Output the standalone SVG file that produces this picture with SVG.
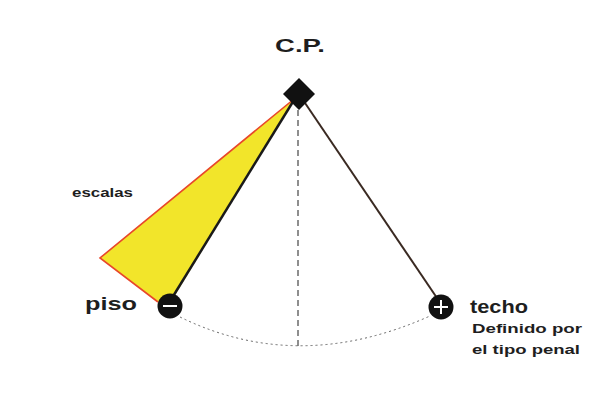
<svg xmlns="http://www.w3.org/2000/svg" width="613" height="405" viewBox="0 0 613 405">
<style>
.lbl{font-family:"Liberation Sans",Arial,sans-serif;fill:#1e1e1e}
.big{font-size:19px;font-weight:bold}
.sm{font-size:13px;font-weight:bold}
.node{fill:#111}
.sym{stroke:#fff;stroke-width:2;fill:none}
</style>
<rect width="613" height="405" fill="#fff"/>
<g id="connectors">
<polygon points="294,99 100,258 158,302 174,297" fill="#f2e52a" stroke="none"/>
<polyline points="294,99 100,258 158,302" fill="none" stroke="#e8472a" stroke-width="1.6"/>
<line x1="294" y1="100" x2="172" y2="298" stroke="#1a1a1a" stroke-width="2.5"/>
<line x1="303" y1="100" x2="437" y2="298" stroke="#3a2a22" stroke-width="2"/>
<line x1="298" y1="110" x2="298" y2="350" stroke="#444" stroke-width="1.2" stroke-dasharray="6,4"/>
<path d="M 180,317 Q 298,375 430,316" fill="none" stroke="#666" stroke-width="1" stroke-dasharray="2,3"/>
</g>
<g id="cp">
<polygon class="node" points="299,78 315,94 299,110 283,94"/>
<text class="lbl big" x="275" y="52" textLength="50" lengthAdjust="spacingAndGlyphs">C.P.</text>
</g>
<g id="escalas">
<text class="lbl sm" x="72" y="197" textLength="61" lengthAdjust="spacingAndGlyphs">escalas</text>
</g>
<g id="piso">
<circle class="node" cx="170" cy="306" r="12.5"/>
<line class="sym" x1="163" y1="306" x2="177" y2="306"/>
<text class="lbl big" x="85" y="310" textLength="52" lengthAdjust="spacingAndGlyphs">piso</text>
</g>
<g id="techo">
<circle class="node" cx="441" cy="307" r="12.5"/>
<line class="sym" x1="434" y1="307" x2="448" y2="307"/>
<line class="sym" x1="441" y1="300" x2="441" y2="314"/>
<text class="lbl big" x="470" y="313" textLength="58" lengthAdjust="spacingAndGlyphs">techo</text>
<text class="lbl sm" x="472" y="333" textLength="110" lengthAdjust="spacingAndGlyphs">Definido por</text>
<text class="lbl sm" x="472" y="354" textLength="108" lengthAdjust="spacingAndGlyphs">el tipo penal</text>
</g>
</svg>
